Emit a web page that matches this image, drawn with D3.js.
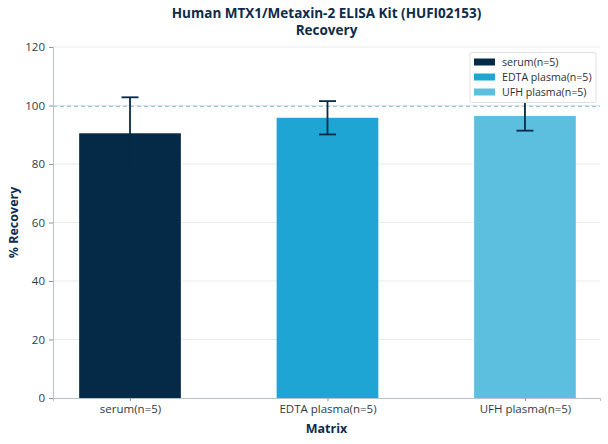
<!DOCTYPE html>
<html lang="en">
<head>
<meta charset="utf-8">
<title>MTX1 recovery</title>
<style>
	body { margin: 0px; background: #ffffff; overflow: hidden; }
	text { font-family: "Open Sans", "Noto Sans", sans-serif; }
</style>
</head>
<body>
<svg id="chart" width="608" height="444"></svg>
<script src="https://cdn.jsdelivr.net/npm/d3@7"></script>
<script>
// data
var categories = ["serum(n=5)", "EDTA plasma(n=5)", "UFH plasma(n=5)"];
var recovery = [90.5, 95.8, 96.4];
var errors = [12.3, 5.7, 5.0];
var colors = ["#042a48", "#1fa5d3", "#5cbfe0"];
var yTicks = [0, 20, 40, 60, 80, 100, 120];

var margin = {top: 47, right: 8, bottom: 46, left: 53},
	width = 608 - margin.left - margin.right,
	height = 444 - margin.top - margin.bottom;

var svg = d3.select("#chart");
var g = svg.append("g").attr("transform", "translate(" + margin.left + "," + margin.top + ")");

var x = d3.scaleLinear().domain([-0.39, 2.38]).range([0, width]);
var y = d3.scaleLinear().domain([0, 120]).range([height, 0]);
var barW = x(0.515) - x(0);

// gridlines
g.selectAll(".grid").data(yTicks.slice(1))
	.enter().append("line")
	.attr("x1", 0).attr("x2", width)
	.attr("y1", d => y(d)).attr("y2", d => y(d))
	.attr("stroke", "#e6e9ed").attr("stroke-width", 1);

// bars
g.selectAll(".bar").data(recovery)
	.enter().append("rect")
	.attr("x", (d, i) => x(i) - barW / 2)
	.attr("y", d => y(d))
	.attr("width", barW)
	.attr("height", d => height - y(d))
	.attr("fill", (d, i) => colors[i]);

// 100% reference
g.append("line")
	.attr("x1", 0).attr("x2", width)
	.attr("y1", y(100) + 0.8).attr("y2", y(100) + 0.8)
	.attr("stroke", "#7fc0cc").attr("stroke-width", 1)
	.attr("stroke-dasharray", "4,3");

// error bars
var cap = 8.5;
var eb = g.selectAll(".err").data(recovery).enter().append("g")
	.attr("stroke", "#042a48").attr("stroke-width", 1.8);
eb.append("line")
	.attr("x1", (d, i) => x(i)).attr("x2", (d, i) => x(i))
	.attr("y1", (d, i) => y(d - errors[i])).attr("y2", (d, i) => y(d + errors[i]));
eb.append("line")
	.attr("x1", (d, i) => x(i) - cap).attr("x2", (d, i) => x(i) + cap)
	.attr("y1", (d, i) => y(d + errors[i])).attr("y2", (d, i) => y(d + errors[i]));
eb.append("line")
	.attr("x1", (d, i) => x(i) - cap).attr("x2", (d, i) => x(i) + cap)
	.attr("y1", (d, i) => y(d - errors[i])).attr("y2", (d, i) => y(d - errors[i]));

// axes
var yAxis = g.append("g")
	.call(d3.axisLeft(y).tickValues(yTicks).tickSize(4).tickPadding(4));
var xAxis = g.append("g")
	.attr("transform", "translate(0," + height + ")")
	.call(d3.axisBottom(x).tickValues([0, 1, 2]).tickFormat(i => categories[i]).tickSize(3).tickPadding(4));

[xAxis, yAxis].forEach(a => {
	a.select(".domain").attr("stroke", "#b9c1c9");
	a.selectAll(".tick line").attr("stroke", "#8a949e");
	a.selectAll(".tick text").attr("fill", "#2e3a47").style("font-size", "11.5px");
});

// legend (drawn over the marks)
var lg = g.append("g").attr("transform", "translate(" + (width - 130) + ",5.5)");
lg.append("rect")
	.attr("width", 126).attr("height", 50).attr("rx", 2)
	.attr("fill", "#ffffff").attr("fill-opacity", 0.97)
	.attr("stroke", "#dde1e5");
categories.forEach((c, i) => {
	lg.append("rect")
		.attr("x", 4).attr("y", 6 + i * 15)
		.attr("width", 21).attr("height", 7)
		.attr("fill", colors[i]);
	lg.append("text")
		.attr("x", 32).attr("y", 13.5 + i * 15)
		.attr("fill", "#2a2f36")
		.style("font-size", "10.6px")
		.text(c);
});

// titles
svg.append("text")
	.attr("x", margin.left + width / 2).attr("y", 18)
	.attr("text-anchor", "middle").attr("fill", "#0d2b4a")
	.style("font-size", "13.5px").style("font-weight", "bold")
	.text("Human MTX1/Metaxin-2 ELISA Kit (HUFI02153)");
svg.append("text")
	.attr("x", margin.left + width / 2).attr("y", 35)
	.attr("text-anchor", "middle").attr("fill", "#0d2b4a")
	.style("font-size", "13.5px").style("font-weight", "bold")
	.text("Recovery");

svg.append("text")
	.attr("x", margin.left + width / 2).attr("y", 433)
	.attr("text-anchor", "middle").attr("fill", "#0d2b4a")
	.style("font-size", "12.5px").style("font-weight", "bold")
	.text("Matrix");
svg.append("text")
	.attr("transform", "translate(18," + (margin.top + height / 2) + ") rotate(-90)")
	.attr("text-anchor", "middle").attr("fill", "#0d2b4a")
	.style("font-size", "12.5px").style("font-weight", "bold")
	.text("% Recovery");
</script>
</body>
</html>
